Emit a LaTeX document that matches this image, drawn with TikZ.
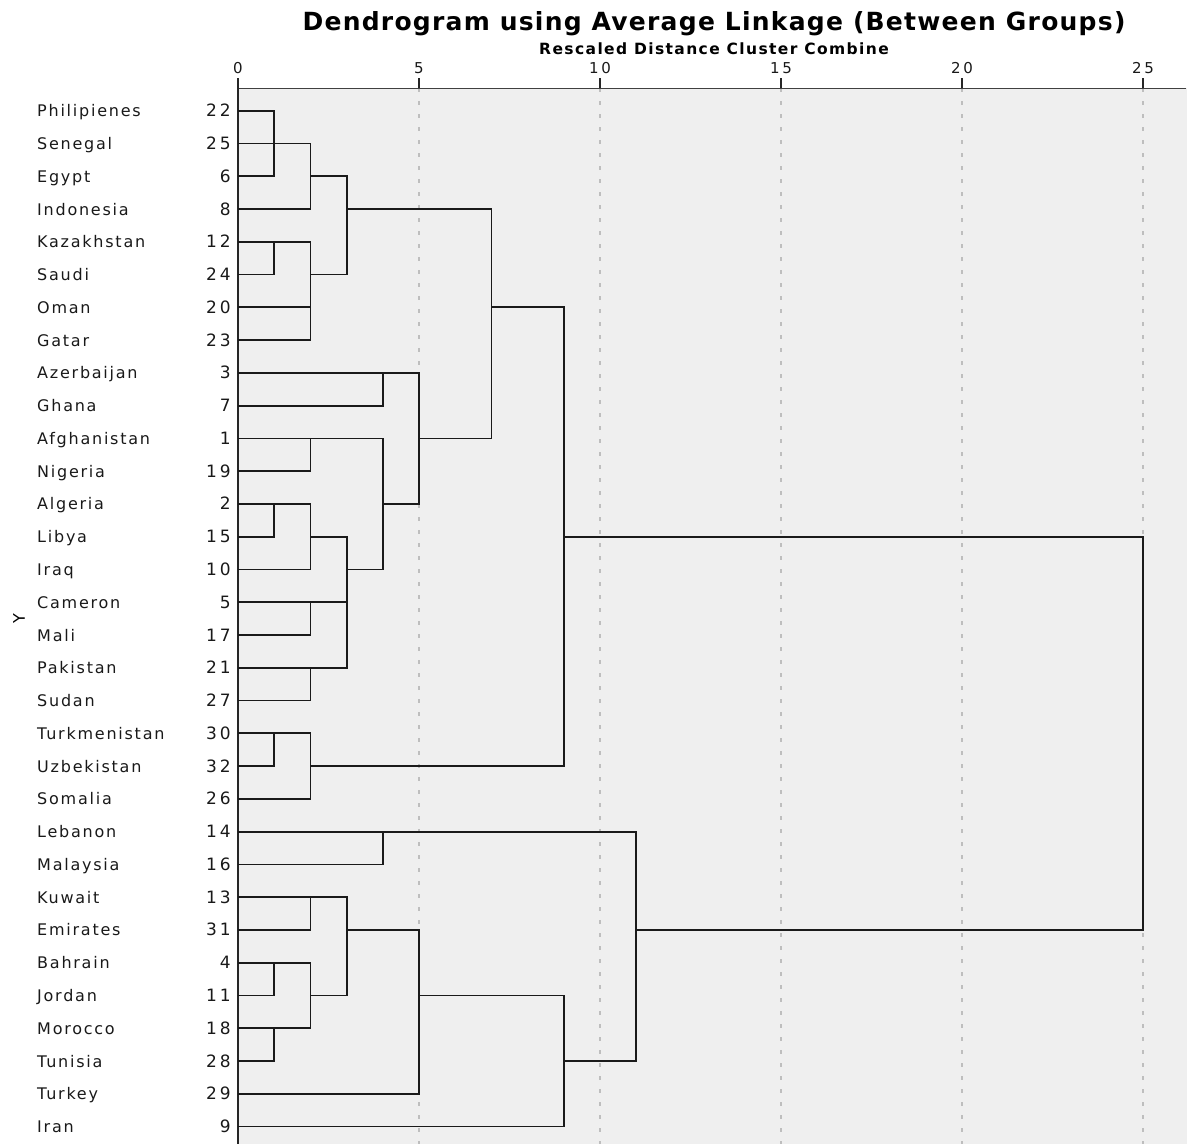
\documentclass[tikz,border=0pt]{standalone}
\usepackage{fontspec}
\setmainfont{DejaVu Sans}
\newfontfamily\labelfont[LetterSpace=11]{DejaVu Sans}
\newfontfamily\zahlfont[LetterSpace=18]{DejaVu Sans}
\newfontfamily\kopffont[LetterSpace=5]{DejaVu Sans}
\newfontfamily\unterfont[LetterSpace=9]{DejaVu Sans}

\definecolor{hintergrund}{HTML}{EFEFEF}
\definecolor{gitter}{HTML}{BEBEBE}
\definecolor{linie}{HTML}{1A1A1A}

\tikzset{
	land/.style={anchor=base west, xshift=-201pt, yshift=-6pt, inner sep=0pt, text=black!90, font=\labelfont\fontsize{16}{16}\selectfont},
	nummer/.style={anchor=base east, xshift=-7pt, yshift=-6pt, inner sep=0pt, text=black!90, font=\zahlfont\fontsize{17}{17}\selectfont},
	skala/.style={anchor=base, yshift=4.5pt, inner sep=0pt, text=black!90, font=\zahlfont\fontsize{15}{15}\selectfont},
	ast/.style={line width=1.8pt, linie}
}

\begin{document}
\begin{tikzpicture}[x=1pt, y=-1pt]
	\useasboundingbox (0,0) rectangle (1187,1144);

	% zeichne Hintergrund und Titel
	\fill[hintergrund] (238,88) rectangle (1187,1144);
	\node[anchor=base, font=\kopffont\bfseries\fontsize{25}{25}\selectfont] (titel) at (714,30) {Dendrogram using Average Linkage (Between Groups)};
	\node[anchor=base, font=\unterfont\bfseries\fontsize{15.5}{15.5}\selectfont] (untertitel) at (714,54) {Rescaled Distance Cluster Combine};
	\node[rotate=90, font=\labelfont\fontsize{16}{16}\selectfont] (yachse) at (19,619) {Y};

	\begin{scope}[xshift=238pt, yshift=-110.7pt, x=36.2pt, y=-32.77pt]
		% zeichne Gitter und Achsen
		\foreach \k in {5,10,15,20,25}
			\draw[gitter, line width=1.2pt, dash pattern=on 4pt off 9pt] (\k,-0.68) -- (\k,31.6);
		\draw[line width=1.8pt, black!75] (0,-0.68) -- (26.2,-0.68);
		\draw[line width=1.8pt, black!85] (0,-0.68) -- (0,31.6);
		\foreach \k in {0,5,10,15,20,25}
			\draw[line width=1.8pt, black!85] (\k,-0.68) -- ++(0,-0.31) node[skala] (t\k) {\k};

		% zeichne Labels
		\node[land] (l22) at (0,0) {Philipienes};   \node[nummer] (n22) at (0,0) {22};
		\node[land] (l25) at (0,1) {Senegal};       \node[nummer] (n25) at (0,1) {25};
		\node[land] (l6) at (0,2) {Egypt};          \node[nummer] (n6) at (0,2) {6};
		\node[land] (l8) at (0,3) {Indonesia};      \node[nummer] (n8) at (0,3) {8};
		\node[land] (l12) at (0,4) {Kazakhstan};    \node[nummer] (n12) at (0,4) {12};
		\node[land] (l24) at (0,5) {Saudi};         \node[nummer] (n24) at (0,5) {24};
		\node[land] (l20) at (0,6) {Oman};          \node[nummer] (n20) at (0,6) {20};
		\node[land] (l23) at (0,7) {Gatar};         \node[nummer] (n23) at (0,7) {23};
		\node[land] (l3) at (0,8) {Azerbaijan};     \node[nummer] (n3) at (0,8) {3};
		\node[land] (l7) at (0,9) {Ghana};          \node[nummer] (n7) at (0,9) {7};
		\node[land] (l1) at (0,10) {Afghanistan};   \node[nummer] (n1) at (0,10) {1};
		\node[land] (l19) at (0,11) {Nigeria};      \node[nummer] (n19) at (0,11) {19};
		\node[land] (l2) at (0,12) {Algeria};       \node[nummer] (n2) at (0,12) {2};
		\node[land] (l15) at (0,13) {Libya};        \node[nummer] (n15) at (0,13) {15};
		\node[land] (l10) at (0,14) {Iraq};         \node[nummer] (n10) at (0,14) {10};
		\node[land] (l5) at (0,15) {Cameron};       \node[nummer] (n5) at (0,15) {5};
		\node[land] (l17) at (0,16) {Mali};         \node[nummer] (n17) at (0,16) {17};
		\node[land] (l21) at (0,17) {Pakistan};     \node[nummer] (n21) at (0,17) {21};
		\node[land] (l27) at (0,18) {Sudan};        \node[nummer] (n27) at (0,18) {27};
		\node[land] (l30) at (0,19) {Turkmenistan}; \node[nummer] (n30) at (0,19) {30};
		\node[land] (l32) at (0,20) {Uzbekistan};   \node[nummer] (n32) at (0,20) {32};
		\node[land] (l26) at (0,21) {Somalia};      \node[nummer] (n26) at (0,21) {26};
		\node[land] (l14) at (0,22) {Lebanon};      \node[nummer] (n14) at (0,22) {14};
		\node[land] (l16) at (0,23) {Malaysia};     \node[nummer] (n16) at (0,23) {16};
		\node[land] (l13) at (0,24) {Kuwait};       \node[nummer] (n13) at (0,24) {13};
		\node[land] (l31) at (0,25) {Emirates};     \node[nummer] (n31) at (0,25) {31};
		\node[land] (l4) at (0,26) {Bahrain};       \node[nummer] (n4) at (0,26) {4};
		\node[land] (l11) at (0,27) {Jordan};       \node[nummer] (n11) at (0,27) {11};
		\node[land] (l18) at (0,28) {Morocco};      \node[nummer] (n18) at (0,28) {18};
		\node[land] (l28) at (0,29) {Tunisia};      \node[nummer] (n28) at (0,29) {28};
		\node[land] (l29) at (0,30) {Turkey};       \node[nummer] (n29) at (0,30) {29};
		\node[land] (l9) at (0,31) {Iran};          \node[nummer] (n9) at (0,31) {9};

		% zeichne oberen Ast
		\draw[ast] (0,0) -| (1,2) -- (0,2);
		\draw[ast] (0,1) -| (2,3) -- (0,3);
		\draw[ast] (2,2) -| (3,5) -- (2,5);
		\draw[ast] (0,4) -| (1,5) -- (0,5);
		\draw[ast] (1,4) -| (2,7) -- (0,7);
		\draw[ast] (0,4) -- (1,4);
		\draw[ast] (0,6) -- (2,6);
		\draw[ast] (3,3) -| (7,10) -- (5,10);
		\draw[ast] (0,8) -| (5,12) -- (4,12);
		\draw[ast] (0,9) -| (4,8);
		\draw[ast] (0,10) -| (4,14) -- (3,14);
		\draw[ast] (0,11) -| (2,10);
		\draw[ast] (0,12) -| (1,13) -- (0,13);
		\draw[ast] (1,12) -| (2,14) -- (0,14);
		\draw[ast] (2,13) -| (3,17) -- (0,17);
		\draw[ast] (0,15) -- (3,15);
		\draw[ast] (0,16) -| (2,15);
		\draw[ast] (0,18) -| (2,17);
		\draw[ast] (0,19) -| (1,20) -- (0,20);
		\draw[ast] (1,19) -| (2,21) -- (0,21);
		\draw[ast] (2,20) -| (9,6) -- (7,6);

		% zeichne unteren Ast
		\draw[ast] (0,22) -| (11,29) -- (9,29);
		\draw[ast] (0,23) -| (4,22);
		\draw[ast] (0,24) -| (3,27) -- (2,27);
		\draw[ast] (0,25) -| (2,24);
		\draw[ast] (0,26) -| (1,27) -- (0,27);
		\draw[ast] (1,26) -| (2,28) -- (0,28);
		\draw[ast] (0,29) -| (1,28);
		\draw[ast] (3,25) -| (5,30) -- (0,30);
		\draw[ast] (5,27) -| (9,31) -- (0,31);

		% zeichne Wurzel
		\draw[ast] (9,13) -| (25,25) -- (11,25);
	\end{scope}
\end{tikzpicture}
\end{document}
